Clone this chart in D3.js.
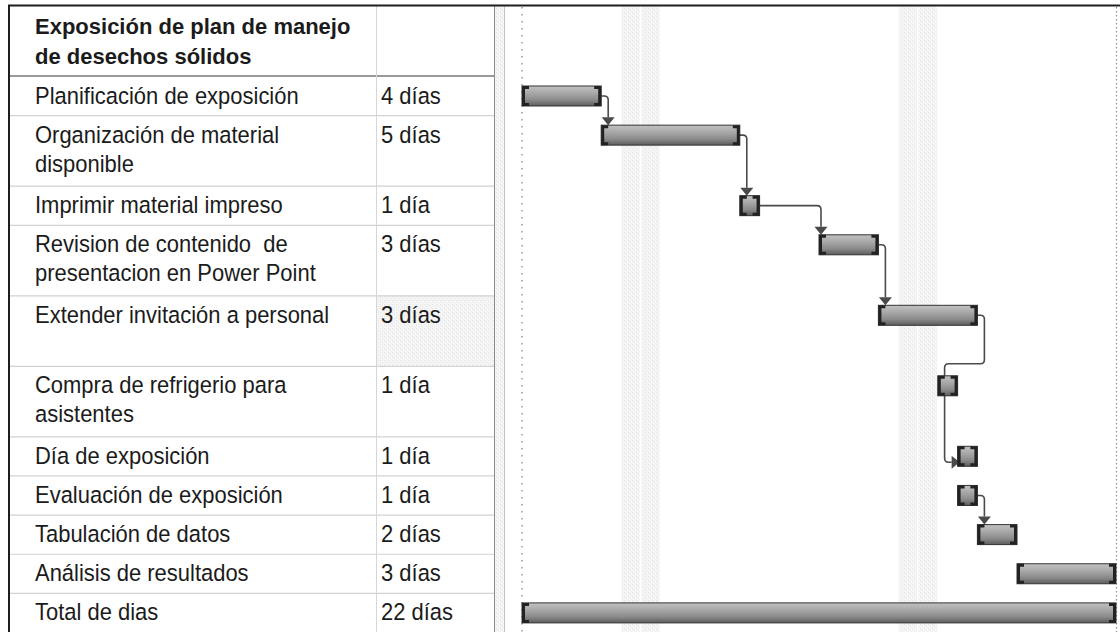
<!DOCTYPE html>
<html><head><meta charset="utf-8">
<script src="https://cdn.jsdelivr.net/npm/d3@7"></script>
<style>
html,body{margin:0;padding:0;background:#fff;}
svg{display:block;}
text{font-family:"Liberation Sans",Arial,sans-serif;fill:#1b1b1b;white-space:pre;}
</style></head>
<body>
<svg id="chart" width="1120" height="632"></svg>
<script>
// ---- data ----
const headerTitle = ["Exposición de plan de manejo", "de desechos sólidos"];
const taskNames = [
  ["Planificación de exposición"],
  ["Organización de material", "disponible"],
  ["Imprimir material impreso"],
  ["Revision de contenido  de", "presentacion en Power Point"],
  ["Extender invitación a personal"],
  ["Compra de refrigerio para", "asistentes"],
  ["Día de exposición"],
  ["Evaluación de exposición"],
  ["Tabulación de datos"],
  ["Análisis de resultados"],
  ["Total de dias"]
];
const durationLabels = ["4 días","5 días","1 día","3 días","3 días","1 día","1 día","1 día","2 días","3 días","22 días"];
const startDays = [0, 4, 11, 15, 18, 21, 22, 22, 23, 25, 0];
const endDays   = [4, 11, 12, 18, 23, 22, 23, 23, 25, 30, 30];
const nonWorkingDays = [5, 6, 19, 20];
const linkFrom = [0, 1, 2, 3, 4, 7];
const linkTo   = [1, 2, 3, 4, 6, 8];
const timelineEnd = 30;

// ---- layout ----
const W = 1120, H = 632;
const tableLeft = 9, colSep = 376, tableRight = 494, splitRight = 504;
const topY = 5, headerBottom = 76;
const single = 39.15, dbl = 70.5;
const rowSpan = [1, 2, 1, 2, 2, 2, 1, 1, 1, 1, 1];
const rowH = rowSpan.map(s => s === 2 ? dbl : single);
const rowTops = [headerBottom];
rowH.forEach((h, i) => rowTops.push(rowTops[i] + h));
const fs = 23.5, sx = 0.935;

const svg = d3.select("#chart");
const defs = svg.append("defs");

// textures
const pat = defs.append("pattern").attr("id","tex").attr("patternUnits","userSpaceOnUse").attr("width",4).attr("height",4);
pat.append("rect").attr("width",4).attr("height",4).attr("fill","#f3f3f3");
pat.append("rect").attr("x",0).attr("y",0).attr("width",1).attr("height",1).attr("fill","#e6e6e6");
pat.append("rect").attr("x",2).attr("y",2).attr("width",1).attr("height",1).attr("fill","#e8e8e8");
pat.append("rect").attr("x",1).attr("y",3).attr("width",1).attr("height",1).attr("fill","#fbfbfb");
pat.append("rect").attr("x",3).attr("y",1).attr("width",1).attr("height",1).attr("fill","#fbfbfb");

const grad = defs.append("linearGradient").attr("id","barGrad").attr("x1",0).attr("y1",0).attr("x2",0).attr("y2",1);
grad.append("stop").attr("offset","0%").attr("stop-color","#c2c2c2");
grad.append("stop").attr("offset","35%").attr("stop-color","#a8a8a8");
grad.append("stop").attr("offset","70%").attr("stop-color","#8a8a8a");
grad.append("stop").attr("offset","100%").attr("stop-color","#5c5c5c");

// scales
const x = d3.scaleLinear().domain([0, timelineEnd]).range([522, 1116]);
const idx = d3.range(taskNames.length);
const yTop = d3.scaleOrdinal().domain(idx).range(rowTops.slice(0, -1));
const barOff = 10, barH = 20;
const by = i => yTop(i) + barOff;

// non-working stripes
svg.append("g").selectAll("rect").data(nonWorkingDays).join("rect")
  .attr("x", d => x(d) + 0.5).attr("width", d => x(d + 1) - x(d) - 1.5)
  .attr("y", topY).attr("height", H - topY)
  .attr("fill", "url(#tex)");

// dotted vertical lines
svg.append("line").attr("x1", x(0)).attr("x2", x(0)).attr("y1", topY + 2).attr("y2", H)
  .attr("stroke", "#8a8a8a").attr("stroke-width", 1.3).attr("stroke-dasharray", "1.5,5.5");
svg.append("line").attr("x1", x(timelineEnd) + 0.5).attr("x2", x(timelineEnd) + 0.5).attr("y1", topY + 2).attr("y2", H)
  .attr("stroke", "#8a8a8a").attr("stroke-width", 1.2).attr("stroke-dasharray", "1.5,2.5");

// ---- table ----
const tbl = svg.append("g");
tbl.append("rect").attr("x", colSep + 1).attr("y", yTop(4)).attr("width", tableRight - colSep - 1).attr("height", rowH[4]).attr("fill", "url(#tex)");
tbl.selectAll("line.row").data(rowTops.slice(1)).join("line").attr("class","row")
  .attr("x1", tableLeft + 1).attr("x2", tableRight).attr("y1", d => d + 0.5).attr("y2", d => d + 0.5)
  .attr("stroke", "#d2d2d2").attr("stroke-width", 1.2);
tbl.append("line").attr("x1", tableLeft + 1).attr("x2", tableRight).attr("y1", headerBottom).attr("y2", headerBottom)
  .attr("stroke", "#9a9a9a").attr("stroke-width", 2);
tbl.append("line").attr("x1", colSep + 0.5).attr("x2", colSep + 0.5).attr("y1", topY).attr("y2", H)
  .attr("stroke", "#d6d6d6").attr("stroke-width", 1);
tbl.append("rect").attr("x", tableRight).attr("y", topY).attr("width", splitRight - tableRight).attr("height", H - topY).attr("fill", "url(#tex)");
tbl.append("line").attr("x1", tableRight + 0.5).attr("x2", tableRight + 0.5).attr("y1", topY).attr("y2", H).attr("stroke", "#8c8c8c");
tbl.append("line").attr("x1", splitRight + 0.5).attr("x2", splitRight + 0.5).attr("y1", topY).attr("y2", H).attr("stroke", "#c4c4c4");

// header text
tbl.selectAll("text.hdr").data(headerTitle).join("text").attr("class","hdr")
  .attr("x", 35).attr("y", (d, i) => 34 + i * 29.5)
  .attr("font-size", 22).attr("font-weight", "bold").text(d => d);

// task names
const rows = tbl.selectAll("g.task").data(idx).join("g").attr("class","task");
rows.selectAll("text.name").data(i => taskNames[i].map(t => ({t, i}))).join("text").attr("class","name")
  .attr("transform", (d, k) => `translate(35,${yTop(d.i) + 27.5 + k * 29}) scale(${sx},1)`)
  .attr("font-size", fs).text(d => d.t);
rows.append("text")
  .attr("transform", i => `translate(381,${yTop(i) + 27.5}) scale(${sx},1)`)
  .attr("font-size", fs).text(i => durationLabels[i]);

// borders
svg.append("line").attr("x1", 8).attr("x2", W).attr("y1", topY + 0.5).attr("y2", topY + 0.5).attr("stroke", "#1e1e1e").attr("stroke-width", 2);
svg.append("line").attr("x1", tableLeft).attr("x2", tableLeft).attr("y1", topY).attr("y2", H).attr("stroke", "#1e1e1e").attr("stroke-width", 2);

// ---- links ----
const lg = svg.append("g");
const lc = "#4a4a4a";
const r = 4;
linkFrom.forEach((p, k) => {
  const s = linkTo[k];
  const px = x(endDays[p]), py = by(p) + barH / 2;
  const sx0 = x(startDays[s]);
  if (startDays[s] >= endDays[p]) {
    const vx = Math.max(px + 7, sx0 + 2);
    const ty = by(s) - 8;
    lg.append("path").attr("fill","none").attr("stroke", lc).attr("stroke-width", 1.6)
      .attr("d", `M${px},${py} H${vx - r} Q${vx},${py} ${vx},${py + r} V${ty}`);
    lg.append("path").attr("fill", lc)
      .attr("d", `M${vx - 6.5},${ty} H${vx + 6.5} L${vx},${by(s)} Z`);
  } else {
    const vx = px + 7;
    const midY = yTop(p + 1) - 2;
    const lx = sx0 - 13;
    const ey = by(s) + 16;
    const tip = sx0 + 2;
    lg.append("path").attr("fill","none").attr("stroke", lc).attr("stroke-width", 1.6)
      .attr("d", `M${px},${py} H${vx - r} Q${vx},${py} ${vx},${py + r} V${midY - r} Q${vx},${midY} ${vx - r},${midY} H${lx + r} Q${lx},${midY} ${lx},${midY + r} V${ey - r} Q${lx},${ey} ${lx + r},${ey} H${tip - 8}`);
    lg.append("path").attr("fill", lc)
      .attr("d", `M${tip - 8},${ey - 6.5} L${tip},${ey} L${tip - 8},${ey + 6.5} Z`);
  }
});

// ---- bars ----
const bars = svg.append("g").selectAll("g").data(idx).join("g")
  .attr("transform", i => `translate(${x(startDays[i])},${by(i)})`);
bars.append("rect")
  .attr("width", i => x(endDays[i]) - x(startDays[i])).attr("height", barH)
  .attr("fill", "url(#barGrad)").attr("stroke", "#333").attr("stroke-width", 1);
const cw = 7, ct = 3;
bars.append("path").attr("fill", "#222")
  .attr("d", `M0,0 H${cw} V${ct} H${ct} V${barH - ct} H${cw} V${barH} H0 Z`);
bars.append("path").attr("fill", "#222")
  .attr("d", i => { const w = x(endDays[i]) - x(startDays[i]);
    return `M${w},0 H${w - cw} V${ct} H${w - ct} V${barH - ct} H${w - cw} V${barH} H${w} Z`; });
</script>
</body></html>
